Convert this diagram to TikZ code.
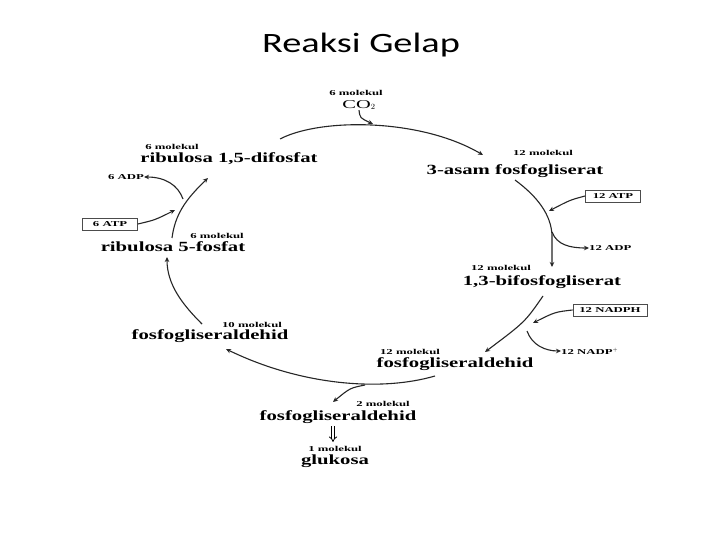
\documentclass[tikz,border=0pt]{standalone}
\usepackage{fontspec}
\usetikzlibrary{arrows.meta}
\newfontfamily\titlefont[FakeStretch=1.37]{Carlito}
\newfontfamily\lblfont[FakeStretch=1.48]{Liberation Serif}
\newfontfamily\smfont[FakeStretch=1.7]{Liberation Serif}
\begin{document}
\begin{tikzpicture}[x=1pt,y=-1pt,
  big/.style={inner sep=0pt,font=\lblfont\bfseries\fontsize{14}{16}\selectfont},
  mol/.style={inner sep=0pt,font=\smfont\bfseries\fontsize{7.5}{9}\selectfont},
  boxed/.style={mol,draw=black!70,line width=0.8pt,minimum width=55pt,minimum height=12pt,inner sep=1pt},
  conn/.style={line width=1.1pt,draw=black!85,-{Stealth[length=5pt,width=4.5pt]}},
  line/.style={line width=1.1pt,draw=black!85}]
\useasboundingbox[fill=white] (0,0) rectangle (720,540);
\node[font=\titlefont\fontsize{28}{32}\selectfont,anchor=base,inner sep=0pt] (title) at (361,53) {Reaksi Gelap};
% labels
\node[mol] (co2m) at (356,93) {6 molekul};
\node[inner sep=0pt,font=\smfont\fontsize{12}{14}\selectfont] (co2) at (359,105) {CO$_2$};
\node[mol] (rbpm) at (172,147) {6 molekul};
\node[big] (rbp) at (229,159) {ribulosa 1,5-difosfat};
\node[mol] (pgam) at (543,153) {12 molekul};
\node[big] (pga) at (515,171) {3-asam fosfogliserat};
\node[boxed] (atp12) at (613,196) {12 ATP};
\node[mol,anchor=west] (adp12) at (589,248) {12 ADP};
\node[mol] (bpgm) at (501,268) {12 molekul};
\node[big] (bpg) at (542,282) {1,3-bifosfogliserat};
\node[boxed,minimum width=74pt] (nadph) at (610,310) {12 NADPH};
\node[mol,anchor=west] (nadp) at (561,351) {12 NADP$^{+}$};
\node[mol] (g3pm) at (410,352) {12 molekul};
\node[big] (g3p) at (455,364) {fosfogliseraldehid};
\node[mol] (g3p10m) at (252,325) {10 molekul};
\node[big] (g3p10) at (210,336) {fosfogliseraldehid};
\node[mol] (g3p2m) at (383,404) {2 molekul};
\node[big] (g3p2) at (338,417) {fosfogliseraldehid};
\node[mol] (glum) at (335,449) {1 molekul};
\node[big] (glu) at (335,461) {glukosa};
\node[mol] (r5pm) at (217,236) {6 molekul};
\node[big] (r5p) at (173,247) {ribulosa 5-fosfat};
\node[boxed] (atp6) at (110,224) {6 ATP};
\node[mol,anchor=east] (adp6) at (144,177) {6 ADP};
% waypoints
\coordinate (a1) at (280,139);
\coordinate (a2) at (483,155);
\coordinate (c1) at (373,124);
\coordinate (p1) at (515,180);
\coordinate (p2) at (552,235);
\coordinate (p3) at (552,267);
\coordinate (t1) at (549,211);
\coordinate (s1) at (552,232);
\coordinate (b1) at (543,296);
\coordinate (b2) at (485,352);
\coordinate (t2) at (533,323);
\coordinate (s2) at (527,331);
\coordinate (g1) at (435,376);
\coordinate (g2) at (226,349);
\coordinate (s3) at (365,385);
\coordinate (g3) at (333,402);
\coordinate (d1) at (333,426);
\coordinate (d2) at (333,442);
\coordinate (l1) at (202,324);
\coordinate (l2) at (167,257);
\coordinate (r1) at (172,238);
\coordinate (r2) at (208,178);
\coordinate (t3) at (175,210);
\coordinate (s4) at (183,199);
% connectors
\draw[conn] (a1) .. controls (320,118) and (420,118) .. (a2);
\draw[conn] (co2.south) .. controls (360,118) .. (c1);
\draw[conn] (p1) .. controls (538,197) and (551,215) .. (p2) -- (p3);
\draw[conn] (atp12.west) .. controls (570,200) .. (t1);
\draw[conn] (s1) .. controls (557,245) and (570,248) .. (adp12.west);
\draw[conn] (b1) .. controls (525,322) .. (b2);
\draw[conn] (nadph.west) .. controls (555,312) .. (t2);
\draw[conn] (s2) .. controls (532,345) and (545,351) .. (nadp.west);
\draw[conn] (g1) .. controls (380,392) and (300,385) .. (g2);
\draw[conn] (s3) .. controls (350,388) .. (g3);
\draw[line width=0.8pt,double,double distance=2pt,-{Implies[]}] (d1) -- (d2);
\draw[conn] (l1) .. controls (183,305) and (167,285) .. (l2);
\draw[conn] (r1) .. controls (175,215) and (185,200) .. (r2);
\draw[conn] (atp6.east) .. controls (155,220) .. (t3);
\draw[conn] (s4) .. controls (178,185) and (165,177) .. (adp6.east);
\end{tikzpicture}
\end{document}
